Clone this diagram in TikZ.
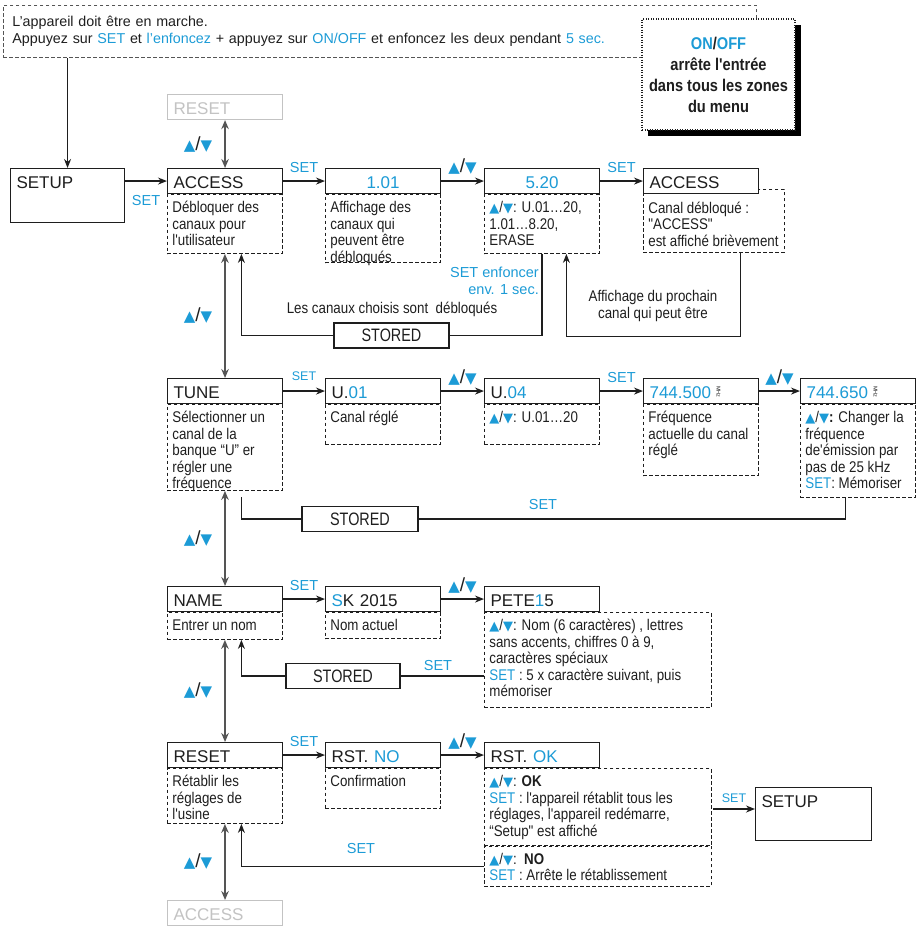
\documentclass[tikz,border=0pt]{standalone}
\usepackage{fontspec}
\usepackage{graphicx}
\setmainfont{Liberation Sans}
\newfontfamily\condfont[FakeStretch=0.86]{Liberation Sans}
\newfontfamily\narrowfont[FakeStretch=0.8]{Liberation Sans}
\newfontfamily\symfont{DejaVu Sans}
\usetikzlibrary{arrows, arrows.meta, shadows}

\definecolor{senblue}{RGB}{28,155,214}
\definecolor{inkgray}{RGB}{30,30,30}
\definecolor{navgray}{RGB}{85,85,85}
\definecolor{fadegray}{RGB}{195,195,195}

\newcommand{\blu}[1]{\textcolor{senblue}{#1}}
\newcommand{\updn}[1]{{\fontsize{#1}{#1}\symfont\blu{▲}}/{\fontsize{#1}{#1}\symfont\blu{▼}}}
\newcommand{\mhz}{\raisebox{12pt}{\rotatebox{-90}{\fontsize{5.5}{5.5}\selectfont MHz}}}
\newcommand{\dtext}[3]{\parbox[t][#2][t]{#1}{\rule{0pt}{16pt}#3}}

\tikzstyle{menu_box} = [draw=inkgray, fill=white, line width=1.1pt, anchor=north west, minimum width=115pt, minimum height=25pt, text width=103pt, inner xsep=6pt, inner ysep=0pt, text height=14pt, text depth=0pt, align=left, text=inkgray, font=\fontsize{17}{17}\selectfont]
\tikzstyle{fade_box} = [menu_box, draw=fadegray, text=fadegray]
\tikzstyle{desc_box} = [draw=inkgray, line width=0.8pt, dash pattern=on 3.5pt off 2.5pt, anchor=north west, inner xsep=5pt, inner ysep=2pt, text=inkgray, font=\condfont\fontsize{15.5}{16.5}\selectfont]
\tikzstyle{stored_box} = [draw=inkgray, fill=white, line width=1.1pt, minimum width=115pt, minimum height=25pt, inner sep=0pt, text=inkgray, font=\narrowfont\fontsize{18}{18}\selectfont]
\tikzstyle{arrow} = [line width=1.3pt, draw=inkgray, ->, >={Stealth[length=9pt, width=7pt]}]
\tikzstyle{link} = [line width=1.3pt, draw=inkgray]
\tikzstyle{nav_arrow} = [line width=1.7pt, draw=navgray, <->, >={Stealth[length=9pt, width=7.5pt]}]
\tikzstyle{set_lbl} = [inner sep=0pt, text=senblue, font=\fontsize{14.5}{17}\selectfont]
\tikzstyle{nav_lbl} = [inner sep=0pt, text=inkgray, font=\fontsize{19}{19}\selectfont]
\tikzstyle{note} = [inner sep=0pt, text=inkgray, align=center, font=\condfont\fontsize{15.5}{16.5}\selectfont]

\begin{document}
\begin{tikzpicture}[x=1pt, y=-1pt]
        \tikzstyle{intro_box} = [draw=navgray, line width=0.8pt, dash pattern=on 3.5pt off 2.5pt, anchor=north west, minimum width=753pt, minimum height=52pt, text width=735pt, inner xsep=9pt, align=left, text=inkgray, font=\fontsize{14.3}{16.5}\selectfont]
        \tikzstyle{onoff_box} = [draw=inkgray, line width=1.4pt, dash pattern=on 1pt off 1.5pt, fill=white, minimum width=153pt, minimum height=111pt, align=center, text=inkgray, font=\condfont\bfseries\fontsize{17}{21}\selectfont, drop shadow={shadow xshift=6pt, shadow yshift=-6pt, fill=black, opacity=1}]

        \useasboundingbox (0,0) rectangle (920,929);

        \node (intro) at (3,5) [intro_box] {L'appareil doit être en marche.\\Appuyez sur \blu{SET} et \blu{l'enfoncez} + appuyez sur \blu{ON/OFF} et enfoncez les deux pendant \blu{5 sec.}};
        \node (onoff) at (718.5,74.5) [onoff_box] {\blu{ON}/\blu{OFF}\\arrête l'entrée\\dans tous les zones\\du menu};

        \node (setup) at (10,168) [menu_box, minimum width=114pt, text width=102pt, minimum height=54pt, text height=17pt, text depth=31pt, inner ysep=3pt] {SETUP};
        \node (rst_top) at (167,94) [fade_box] {RESET};
        \node (access) at (167,168) [menu_box] {ACCESS};
        \node (access_d) at (access.south west) [desc_box] {\dtext{105pt}{55pt}{Débloquer des\\canaux pour\\l'utilisateur}};
        \node (ch101) at (325,168) [menu_box, align=center] {\blu{1.01}};
        \node (ch101_d) at (ch101.south west) [desc_box] {\dtext{105pt}{64pt}{Affichage des\\canaux qui\\peuvent être\\débloqués}};
        \node (ch520) at (484,168) [menu_box, align=center] {\blu{5.20}};
        \node (ch520_d) at (ch520.south west) [desc_box] {\dtext{105pt}{55pt}{\updn{13}: U.01…20,\\1.01…8.20,\\ERASE}};
        \node (acc2_d) at (643,189) [desc_box] {\dtext{131pt}{59pt}{\rule{0pt}{22pt}Canal débloqué :\\"ACCESS"\\est affiché brièvement}};
        \node (acc2) at (643,168) [menu_box] {ACCESS};

        \node (tune) at (167,378) [menu_box] {TUNE};
        \node (tune_d) at (tune.south west) [desc_box] {\dtext{105pt}{82pt}{Sélectionner un\\canal de la\\banque “U” er\\régler une\\fréquence}};
        \node (u01) at (325,378) [menu_box] {U.\blu{01}};
        \node (u01_d) at (u01.south west) [desc_box] {\dtext{105pt}{36pt}{Canal réglé}};
        \node (u04) at (484,378) [menu_box] {U.\blu{04}};
        \node (u04_d) at (u04.south west) [desc_box] {\dtext{105pt}{36pt}{\updn{13}: U.01…20}};
        \node (f7445) at (643,378) [menu_box] {\blu{744.500}~\mhz};
        \node (f7445_d) at (f7445.south west) [desc_box] {\dtext{105pt}{67pt}{Fréquence\\actuelle du canal\\réglé}};
        \node (f7446) at (800,378) [menu_box] {\blu{744.650}~\mhz};
        \node (f7446_d) at (f7446.south west) [desc_box] {\dtext{105pt}{89pt}{\updn{13}\textbf{:} Changer la\\fréquence\\de'émission par\\pas de 25 kHz\\\blu{SET}: Mémoriser}};

        \node (name) at (167,586) [menu_box] {NAME};
        \node (name_d) at (name.south west) [desc_box] {\dtext{105pt}{23pt}{Entrer un nom}};
        \node (sk) at (325,586) [menu_box] {\blu{S}K 2015};
        \node (sk_d) at (sk.south west) [desc_box] {\dtext{105pt}{22pt}{Nom actuel}};
        \node (pete) at (484,586) [menu_box] {PETE\blu{1}5};
        \node (pete_d) at (pete.south west) [desc_box] {\dtext{217pt}{91pt}{\updn{13}: Nom (6 caractères) , lettres\\sans accents, chiffres 0 à 9,\\caractères spéciaux\\\blu{SET} : 5 x caractère suivant, puis\\mémoriser}};

        \node (reset) at (167,742) [menu_box] {RESET};
        \node (reset_d) at (reset.south west) [desc_box] {\dtext{105pt}{51pt}{Rétablir les\\réglages de\\l'usine}};
        \node (rstno) at (325,742) [menu_box] {RST. \blu{NO}};
        \node (rstno_d) at (rstno.south west) [desc_box] {\dtext{105pt}{36pt}{Confirmation}};
        \node (rstok) at (484,742) [menu_box] {RST. \blu{OK}};
        \node (rstok_d) at (rstok.south west) [desc_box] {\dtext{217pt}{73pt}{\updn{13}: \textbf{OK}\\\blu{SET} : l'appareil rétablit tous les\\réglages, l'appareil redémarre,\\“Setup" est affiché}};
        \node (rstok_d2) at (rstok_d.south west) [desc_box] {\dtext{217pt}{36pt}{\updn{13}:~~\textbf{NO}\\\blu{SET} : Arrête le rétablissement}};
        \node (setup2) at (755,787) [menu_box, minimum width=116pt, text width=104pt, minimum height=53pt, text height=17pt, text depth=30pt, inner ysep=3pt] {SETUP};
        \node (acc_bot) at (167,900) [fade_box] {ACCESS};

        \node (stored1) at (391.5,335.5) [stored_box] {STORED};
        \node (stored2) at (360,519) [stored_box, minimum width=116pt] {STORED};
        \node (stored3) at (343,676) [stored_box, minimum width=114pt] {STORED};

        \node (chosen) at (392,309) [note] {Les canaux choisis sont~~débloqués};
        \node (hold) at (539,281) [set_lbl, anchor=east, align=right] {SET enfoncer\\env. 1 sec.};
        \node (nextch) at (653,306) [note] {Affichage du prochain\\canal qui peut être};
        \node (set_tune) at (543,505) [set_lbl] {SET};
        \node (set_name) at (438,665) [set_lbl] {SET};
        \node (set_reset) at (361,848) [set_lbl] {SET};

        \draw[arrow] (intro.south -| setup.north) -- (setup.north);
        \draw[arrow] (setup.east |- access.west) -- (access.west) node[set_lbl, midway, below=14pt] (set0) {SET};
        \draw[arrow] (access.east) -- (ch101.west) node[set_lbl, midway, above=8pt] (set1) {SET};
        \draw[arrow] (ch101.east) -- (ch520.west) node[nav_lbl, midway, above=6pt] (ud1) {\updn{15}};
        \draw[arrow] (ch520.east) -- (acc2.west) node[set_lbl, midway, above=8pt] (set2) {SET};
        \draw[arrow] ([xshift=26.5pt]acc2_d.south) -- ++(0,84) -| ([xshift=24.5pt]ch520_d.south);
        \draw[link] (ch520_d.south) |- (stored1.east);
        \draw[arrow] (stored1.west) -| ([xshift=16.5pt]access_d.south);

        \draw[arrow] (tune.east) -- (u01.west) node[set_lbl, midway, above=10pt, font=\fontsize{12.5}{12.5}\selectfont] (set3) {SET};
        \draw[arrow] (u01.east) -- (u04.west) node[nav_lbl, midway, above=5pt] (ud2) {\updn{15}};
        \draw[arrow] (u04.east) -- (f7445.west) node[set_lbl, midway, above=8pt] (set4) {SET};
        \draw[arrow] (f7445.east) -- (f7446.west) node[nav_lbl, midway, above=5pt] (ud3) {\updn{15}};
        \draw[link] ([xshift=-12.5pt]f7446_d.south) |- (stored2.east);
        \draw[link] (stored2.west) -| ([xshift=16.5pt, yshift=-6pt]tune_d.south);

        \draw[arrow] (name.east) -- (sk.west) node[set_lbl, midway, above=8pt] (set5) {SET};
        \draw[arrow] (sk.east) -- (pete.west) node[nav_lbl, midway, above=5pt] (ud4) {\updn{15}};
        \draw[link] (pete_d.west |- stored3.east) -- (stored3.east);
        \draw[arrow] (stored3.west) -| ([xshift=16.5pt]name_d.south);

        \draw[arrow] (reset.east) -- (rstno.west) node[set_lbl, midway, above=8pt] (set6) {SET};
        \draw[arrow] (rstno.east) -- (rstok.west) node[nav_lbl, midway, above=5pt] (ud5) {\updn{15}};
        \coordinate (okout) at (713,809);
        \draw[arrow] (okout) -- (setup2.west |- okout) node[set_lbl, midway, above=6pt, font=\fontsize{12.5}{12.5}\selectfont] (set7) {SET};
        \draw[arrow] (rstok_d2.west) -| ([xshift=16.5pt]reset_d.south);

        \draw[nav_arrow] (rst_top) -- (access) node[nav_lbl, midway, left=12pt] (nav1) {\updn{15}};
        \draw[nav_arrow] (access_d) -- (tune) node[nav_lbl, midway, left=12pt] (nav2) {\updn{15}};
        \draw[nav_arrow] (tune_d) -- (name) node[nav_lbl, midway, left=12pt] (nav3) {\updn{15}};
        \draw[nav_arrow] (name_d) -- (reset) node[nav_lbl, midway, left=12pt] (nav4) {\updn{15}};
        \draw[nav_arrow] (reset_d) -- (acc_bot) node[nav_lbl, midway, left=12pt] (nav5) {\updn{15}};
\end{tikzpicture}
\end{document}
